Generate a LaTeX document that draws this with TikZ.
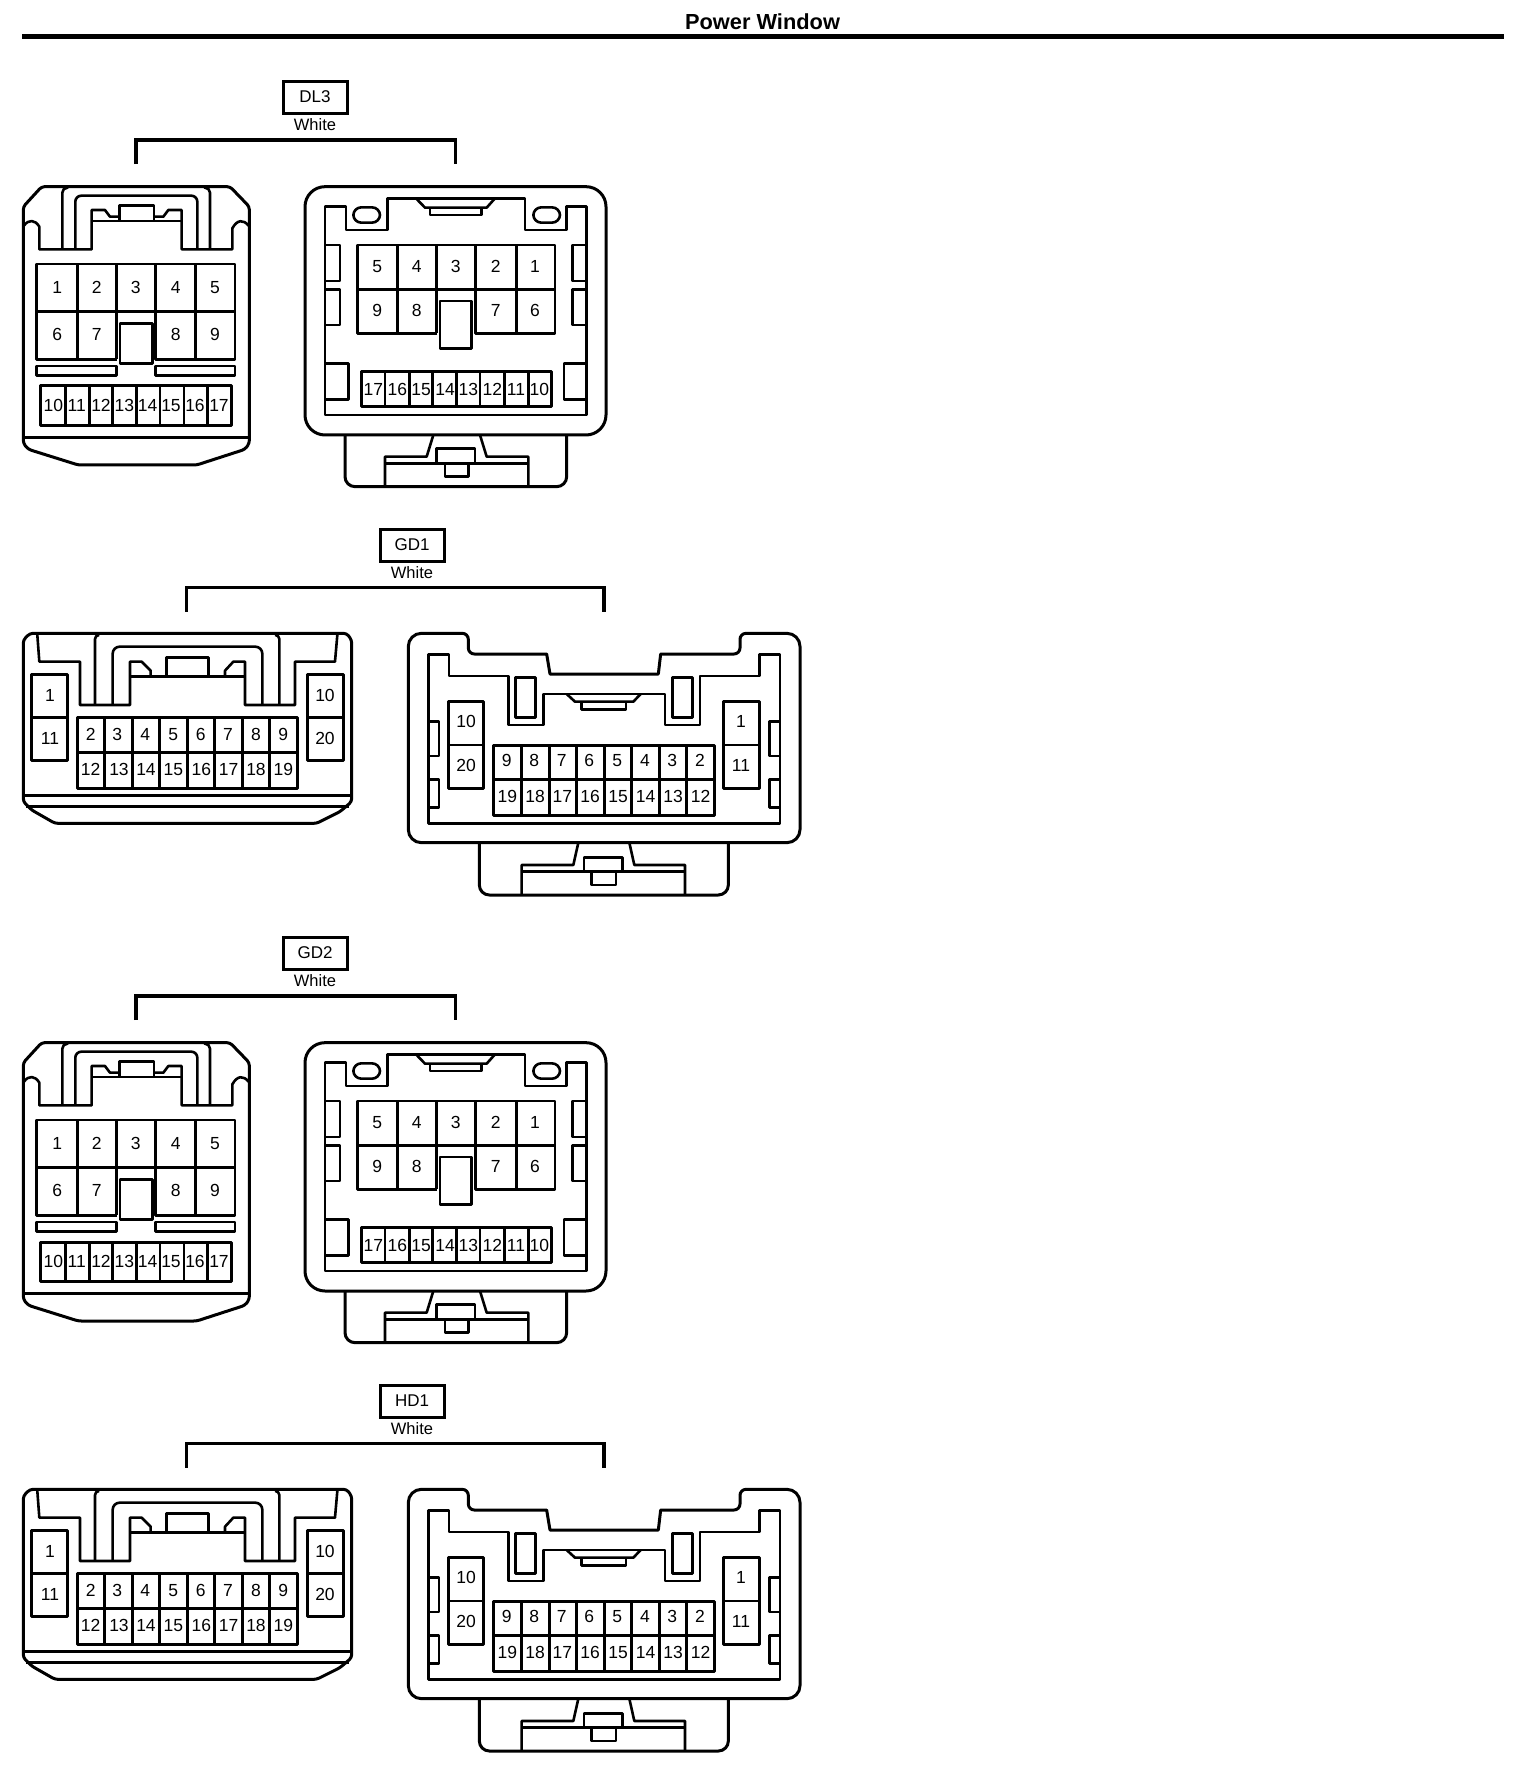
\documentclass[tikz,border=0pt]{standalone}
\usepackage{fontspec}
\setmainfont{Liberation Sans}
\usetikzlibrary{positioning}

\tikzset{
  conn/.style={scale=0.33333},
  shell/.style={line width=3pt,line join=round},
  rib/.style={line width=2.6pt,line join=round},
  pinno/.style={inner sep=0pt,text height=12.6pt,text depth=0pt,font=\fontsize{17.5}{18}\selectfont},
  tagbox/.style={draw,line width=3pt,minimum width=64pt,minimum height=32pt,inner sep=0pt,font=\fontsize{17}{18}\selectfont},
  colourno/.style={inner sep=0pt,font=\fontsize{16.5}{18}\selectfont},
  bracket/.style={line width=3.4pt},
  % connector seen from the wire side, 17 pins
  maleA/.pic={
    % housing
    \draw[shell,rounded corners=3pt] (70,440) -- (125,380) -- (690,380) -- (748,440) -- (748,1150) -- (735,1168) -- (590,1215) -- (235,1215) -- (85,1168) -- (70,1150) -- cycle;
    \draw[shell] (70,1132) -- (748,1132);
    % lock recess
    \draw[rib] (72,497) .. controls (85,478) and (105,478) .. (118,500) -- (118,568) -- (275,568) -- (275,450) -- (315,450) -- (330,470) -- (358,470);
    \draw[rib] (746,497) .. controls (730,478) and (712,478) .. (697,505) -- (697,568) -- (545,568) -- (545,450) -- (505,450) -- (490,470) -- (462,470);
    \draw[rib] (275,483) -- (545,483);
    \draw[rib] (358,483) -- (358,436) -- (462,436) -- (462,483);
    \draw[rib,rounded corners=5pt] (187,568) -- (187,383) -- (205,383);
    \draw[rib,rounded corners=5pt] (630,568) -- (630,383) -- (612,383);
    \draw[rib,rounded corners=6pt] (226,568) -- (226,407) -- (592,407) -- (592,568);
    % upper pins
    \draw[rib] (350,898) -- (110,898) -- (110,612) -- (705,612) -- (705,898) -- (467,898) -- (467,755);
    \draw[rib] (350,898) -- (350,755);
    \draw[rib] (110,755) -- (705,755);
    \foreach \x in {232,587} \draw[rib] (\x,612) -- (\x,898);
    \foreach \x in {350,467} \draw[rib] (\x,612) -- (\x,755);
    \draw[rib] (360,790) rectangle (458,910);
    \draw[rib] (110,918) rectangle (350,947);
    \draw[rib] (467,918) rectangle (705,947);
    \foreach \n/\x in {1/172,2/290,3/407,4/527,5/645} \node[pinno] (pin\n) at (\x,682) {\n};
    \foreach \n/\x in {6/172,7/290,8/527,9/645} \node[pinno] (pin\n) at (\x,823) {\n};
    % lower pins
    \draw[shell] (123,978) rectangle (695,1097);
    \foreach \x in {197,268,338,410,480,552,622} \draw[rib] (\x,978) -- (\x,1097);
    \foreach \n/\x in {10/160,11/230,12/303,13/373,14/443,15/513,16/585,17/657} \node[pinno] (pin\n) at (\x,1035) {\n};
  },
  % connector seen from the mating side, 17 pins
  femaleA/.pic={
    % housing
    \draw[shell,rounded corners=20pt] (45,380) rectangle (948,1125);
    \draw[shell,rounded corners=10pt] (165,1125) -- (165,1280) -- (830,1280) -- (830,1125);
    \draw[rib] (430,1125) -- (410,1190) -- (285,1190) -- (285,1280);
    \draw[rib] (570,1125) -- (590,1190) -- (715,1190) -- (715,1280);
    \draw[rib] (285,1210) -- (715,1210);
    \draw[rib] (440,1210) -- (440,1165) -- (555,1165) -- (555,1210);
    \draw[rib] (465,1210) -- (465,1250) -- (535,1250) -- (535,1210);
    % cavity
    \draw[rib] (105,1065) -- (105,440) -- (168,440) -- (168,510) -- (293,510) -- (293,415) -- (705,415) -- (705,510) -- (830,510) -- (830,440) -- (890,440) -- (890,1065) -- cycle;
    \draw[rib,rounded corners=8pt] (190,442) rectangle (270,488);
    \draw[rib,rounded corners=8pt] (730,442) rectangle (810,488);
    \draw[rib] (378,415) -- (405,443) -- (590,443) -- (615,415);
    \draw[rib] (420,443) -- (420,465) -- (575,465) -- (575,443);
    % side slots
    \foreach \a/\b in {555/663,688/795} {
      \draw[rib] (105,\a) -- (150,\a) -- (150,\b) -- (105,\b);
      \draw[rib] (890,\a) -- (848,\a) -- (848,\b) -- (890,\b);
    }
    \draw[rib] (105,910) -- (175,910) -- (175,1018) -- (105,1018);
    \draw[rib] (890,910) -- (822,910) -- (822,1018) -- (890,1018);
    % upper pins
    \draw[rib] (440,820) -- (202,820) -- (202,555) -- (795,555) -- (795,820) -- (557,820) -- (557,688);
    \draw[rib] (440,820) -- (440,688);
    \draw[rib] (202,688) -- (795,688);
    \foreach \x in {323,680} \draw[rib] (\x,555) -- (\x,820);
    \foreach \x in {440,557} \draw[rib] (\x,555) -- (\x,688);
    \draw[rib] (450,723) rectangle (545,865);
    \foreach \n/\x in {5/262,4/380,3/497,2/617,1/735} \node[pinno] (pin\n) at (\x,620) {\n};
    \foreach \n/\x in {9/262,8/380,7/617,6/735} \node[pinno] (pin\n) at (\x,750) {\n};
    % lower pins
    \draw[shell] (213,935) rectangle (785,1040);
    \foreach \x in {285,358,428,500,570,643,715} \draw[rib] (\x,935) -- (\x,1040);
    \foreach \n/\x in {17/250,16/322,15/393,14/465,13/535,12/607,11/678,10/748} \node[pinno] (pin\n) at (\x,987) {\n};
  },
  % connector seen from the wire side, 20 pins
  maleB/.pic={
    % housing
    \draw[shell,rounded corners=3pt] (70,360) -- (90,340) -- (1040,340) -- (1055,360) -- (1055,845) -- (1020,875) -- (950,910) -- (165,910) -- (95,870) -- (70,845) -- cycle;
    \draw[shell] (70,825) -- (1055,825);
    \draw[rib] (78,860) -- (1047,860);
    % lock recess
    \draw[rib] (112,345) -- (118,425) -- (240,425) -- (240,555) -- (390,555) -- (390,425) -- (425,425) -- (452,452) -- (452,470);
    \draw[rib] (1012,345) -- (1005,425) -- (885,425) -- (885,555) -- (735,555) -- (735,425) -- (700,425) -- (675,452) -- (675,470);
    \draw[rib] (390,470) -- (735,470);
    \draw[rib] (500,470) -- (500,412) -- (625,412) -- (625,470);
    \draw[rib,rounded corners=4pt] (285,555) -- (285,345) -- (298,345);
    \draw[rib,rounded corners=4pt] (838,555) -- (838,345) -- (825,345);
    \draw[rib,rounded corners=7pt] (338,555) -- (338,380) -- (787,380) -- (787,555);
    % side pins
    \draw[shell] (95,462) rectangle (203,720);
    \draw[rib] (95,592) -- (203,592);
    \draw[shell] (923,462) rectangle (1030,720);
    \draw[rib] (923,592) -- (1030,592);
    \node[pinno] (pin1) at (150,525) {1};
    \node[pinno] (pin11) at (150,655) {11};
    \node[pinno] (pin10) at (975,525) {10};
    \node[pinno] (pin20) at (975,655) {20};
    % centre pins
    \draw[shell] (232,592) rectangle (893,805);
    \draw[shell] (232,697) -- (893,697);
    \foreach \x in {315,397,478,562,645,728,810} \draw[shell] (\x,592) -- (\x,805);
    \foreach \n/\x in {2/272,3/352,4/436,5/520,6/602,7/684,8/768,9/850} \node[pinno] (pin\n) at (\x,642) {\n};
    \foreach \n/\x in {12/272,13/357,14/438,15/520,16/604,17/686,18/768,19/850} \node[pinno] (pin\n) at (\x,747) {\n};
  },
  % connector seen from the mating side, 20 pins
  femaleB/.pic={
    % housing
    \draw[shell] (640,462) [sharp corners] -- (805,462) -- (812,402) [rounded corners=6pt] -- (1050,402) -- (1050,340) [rounded corners=13pt] -- (1230,340) -- (1230,968) -- (55,968) -- (55,340) [rounded corners=6pt] -- (235,340) -- (235,402) [sharp corners] -- (470,402) -- (480,462) -- cycle;
    \draw[shell,rounded corners=10pt] (268,968) -- (268,1125) -- (1015,1125) -- (1015,968);
    \draw[rib] (565,968) -- (550,1035) -- (395,1035) -- (395,1125);
    \draw[rib] (718,968) -- (733,1035) -- (885,1035) -- (885,1125);
    \draw[rib] (395,1055) -- (885,1055);
    \draw[rib] (582,1055) -- (582,1012) -- (698,1012) -- (698,1055);
    \draw[rib] (605,1055) -- (605,1095) -- (678,1095) -- (678,1055);
    % cavity
    \draw[rib] (115,910) -- (115,403) -- (177,403) -- (177,468) -- (355,468) -- (355,615) -- (460,615) -- (460,522) -- (825,522) -- (825,615) -- (930,615) -- (930,468) -- (1108,468) -- (1108,403) -- (1170,403) -- (1170,910) -- cycle;
    \draw[rib] (377,472) rectangle (437,592);
    \draw[rib] (848,472) rectangle (908,592);
    \draw[rib] (530,522) -- (555,545) -- (730,545) -- (752,522);
    \draw[rib] (575,545) -- (575,568) -- (708,568) -- (708,545);
    % side slots
    \foreach \a/\b in {605/708,778/862} {
      \draw[rib] (115,\a) -- (147,\a) -- (147,\b) -- (115,\b);
      \draw[rib] (1170,\a) -- (1138,\a) -- (1138,\b) -- (1170,\b);
    }
    % side pins
    \draw[shell] (175,545) rectangle (280,805);
    \draw[rib] (175,675) -- (280,675);
    \draw[shell] (1000,545) rectangle (1108,805);
    \draw[rib] (1000,675) -- (1108,675);
    \node[pinno] (pin10) at (228,605) {10};
    \node[pinno] (pin20) at (228,735) {20};
    \node[pinno] (pin1) at (1053,605) {1};
    \node[pinno] (pin11) at (1053,735) {11};
    % centre pins
    \draw[shell] (310,675) rectangle (973,885);
    \draw[shell] (310,778) -- (973,778);
    \foreach \x in {395,478,560,642,725,808,890} \draw[shell] (\x,675) -- (\x,885);
    \foreach \n/\x in {9/350,8/433,7/515,6/598,5/682,4/765,3/847,2/930} \node[pinno] (pin\n) at (\x,722) {\n};
    \foreach \n/\x in {19/352,18/435,17/517,16/600,15/684,14/767,13/849,12/932} \node[pinno] (pin\n) at (\x,828) {\n};
  }
}

\begin{document}
\begin{tikzpicture}[x=1pt,y=-1pt]
  \useasboundingbox (0,0) rectangle (1536,1772);

  % Title
  \node[inner sep=0pt,font=\fontsize{21.8}{24}\selectfont\bfseries] (title) at (762.5,22) {Power Window};
  \coordinate (ruleL) at (22,36.7);
  \coordinate (ruleR) at (1504,36.7);
  \draw[line width=5pt] (ruleL) -- (ruleR);

  % 17 pin rows
  \foreach \tagid/\dy in {DL3/0,GD2/856} {
    \node[tagbox] (tag\tagid) at (315,97+\dy) {\tagid};
    \node[colourno,below=4pt of tag\tagid] (col\tagid) {White};
    \coordinate (left\tagid) at (136,164+\dy);
    \coordinate (right\tagid) at (455.7,164+\dy);
    \draw[bracket] (left\tagid) -- ++(0,-24) -| (right\tagid);
    \pic[conn] (m\tagid) at (0,60+\dy) {maleA};
    \pic[conn] (f\tagid) at (290,60+\dy) {femaleA};
  }

  % 20 pin rows
  \foreach \tagid/\dy in {GD1/0,HD1/856} {
    \node[tagbox] (tag\tagid) at (412,545+\dy) {\tagid};
    \node[colourno,below=4pt of tag\tagid] (col\tagid) {White};
    \coordinate (left\tagid) at (186.7,611.7+\dy);
    \coordinate (right\tagid) at (604,611.7+\dy);
    \draw[bracket] (left\tagid) -- ++(0,-24.4) -| (right\tagid);
    \pic[conn] (m\tagid) at (0,520+\dy) {maleB};
    \pic[conn] (f\tagid) at (390,520+\dy) {femaleB};
  }
\end{tikzpicture}
\end{document}
